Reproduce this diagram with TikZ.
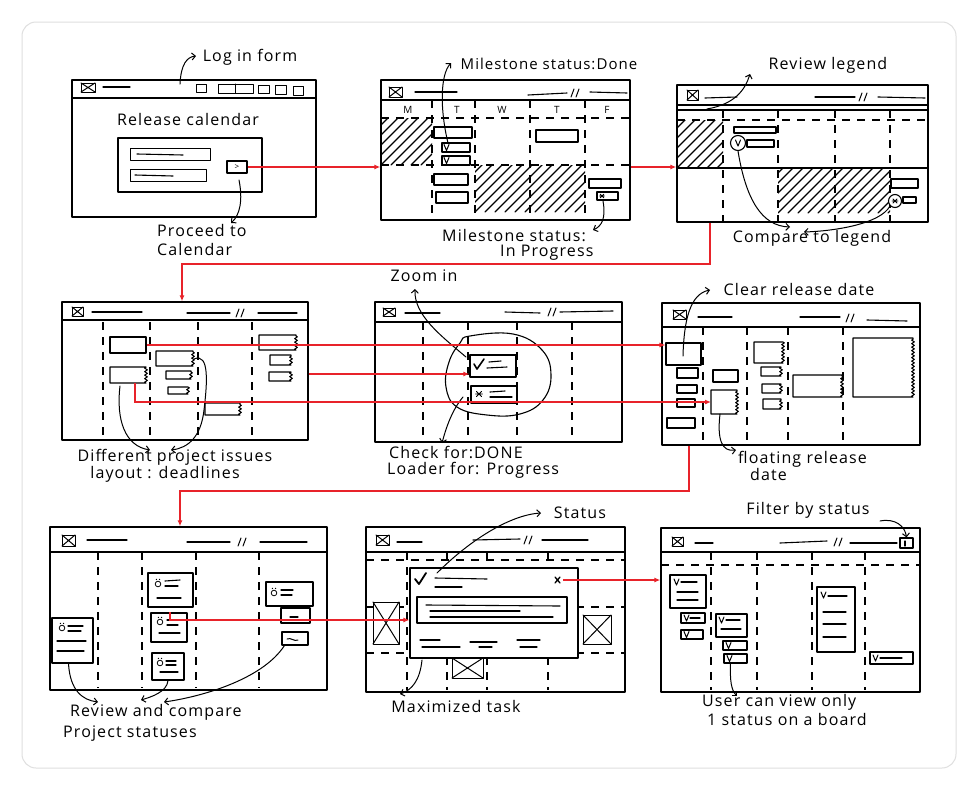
\documentclass[tikz,border=0pt]{standalone}
\usepackage{fontspec}
\setmainfont[LetterSpace=7]{Open Sans}
\usetikzlibrary{arrows.meta,fit,decorations.pathmorphing}
\definecolor{linkred}{HTML}{E8232A}
\tikzset{
  ink/.style={draw=black,line width=1.3pt,line cap=round,line join=round},
  win/.style={ink,inner sep=0pt,fill=white},
  bx/.style={ink,line width=1.1pt,inner sep=0pt},
  dsh/.style={draw=black,line width=1.1pt,dash pattern=on 8pt off 7pt},
  redc/.style={draw=linkred,line width=1.2pt,-{Latex[length=6pt,width=5pt]}},
  note/.style={draw=black,line width=1pt,line cap=round,-{Straight Barb[length=3.5pt,width=7pt]}},
  lbl/.style={font=\fontsize{16}{19}\selectfont,inner sep=0pt},
  day/.style={font=\fontsize{10}{10}\selectfont,inner sep=0pt},
}
\newcommand\skX[4]{\draw[ink,line width=1pt,fill=white] (#1,#2) rectangle (#3,#4); \draw[ink,line width=1pt] (#1,#2) -- (#3,#4) (#1,#4) -- (#3,#2);}
\newcommand\skTorn[4]{\draw[ink,line width=1.1pt,fill=white] (#3,#2) -- (#1,#2) -- (#1,#4) -- (#3,#4) decorate[decoration={zigzag,segment length=3.5pt,amplitude=1.3pt}]{-- (#3,#2)};}
\newcommand\skHatch[4]{\begin{scope}\clip (#1,#2) rectangle (#3,#4); \foreach \i in {0,10,...,200}{\draw[ink,line width=1.1pt] (#1-60+\i,#4) -- ++(60,-60);}\end{scope}}
\newcommand\skV[2]{\draw[ink,line width=1pt] (#1,#2) -- ++(2.5,6) -- ++(2.5,-6);}
\newcommand\skSl[2]{\draw[ink,line width=1pt] (#1-4,#2+4) -- (#1-1,#2-4) (#1+1,#2+4) -- (#1+4,#2-4);}
\newcommand\skLn[4]{\draw[ink,line width=1.1pt] (#1,#2) -- (#3,#4);}
\newcommand\skAst[3]{\draw[ink,line width=0.9pt] (#1-#3,#2) -- (#1+#3,#2) (#1-0.7*#3,#2-0.7*#3) -- (#1+0.7*#3,#2+0.7*#3) (#1-0.7*#3,#2+0.7*#3) -- (#1+0.7*#3,#2-0.7*#3);}
\newcommand\skIc[2]{\draw[ink,line width=0.8pt] (#1,#2) circle (2.8); \fill (#1-1.6,#2-4.6) circle (0.7) (#1+1.6,#2-4.6) circle (0.7);}
\begin{document}
\begin{tikzpicture}[x=1pt,y=-1pt]
\useasboundingbox (0,0) rectangle (978,790);
\fill[white] (0,0) rectangle (978,790);
\draw[gray!25,line width=1pt,rounded corners=14pt] (22,22) rectangle (956,768);

% ---------------- Panel 1
\node[win,fit={(72,80)(316,217)}] (p1) {};
\skLn{72}{98}{316}{98}
\skX{81}{83}{95}{92}
\skLn{103}{87}{130}{87}
\draw[ink,line width=1pt] (196,84) rectangle (206,92) (218,84) rectangle (253,93) (235,84) -- (235,93) (258,85) rectangle (269,93) (275,85) rectangle (286,94) (293,86) rectangle (303,95);
\node[lbl] (t1a) at (188,119) {Release calendar};
\node[bx,fit={(118,138)(262,192)}] (p1form) {};
\draw[ink,line width=1pt] (130,148) rectangle (210,160) (130,169) rectangle (206,181);
\skLn{137}{154}{183}{155}
\skLn{135}{175}{173}{176}
\node[bx,fit={(227,161)(247,173)}] (p1btn) {};
\node[font=\fontsize{8}{8}\selectfont,inner sep=0pt] (p1gt) at (237,167) {>};
\node[lbl] (t1b) at (250,57) {Log in form};
\draw[note] (180,84) .. controls (181,64) and (187,57) .. (196,56);
\node[lbl,align=left,anchor=north west,font=\fontsize{16}{19}\selectfont] (t1c) at (157,224) {Proceed to\\Calendar};
\draw[note] (239,180) .. controls (243,200) and (240,215) .. (231,223);

% ---------------- Panel 2
\node[win,fit={(381,80)(630,220)}] (p2) {};
\skLn{381}{100}{630}{100}
\skX{389}{87}{402}{97}
\skLn{415}{92}{457}{92}
\skLn{528}{95}{567}{93}
\skSl{575}{93}
\skLn{590}{92}{627}{93}
\node[day] (dM) at (408,110) {M};
\node[day] (dT1) at (457,110) {T};
\node[day] (dW) at (502,110) {W};
\node[day] (dT2) at (557,110) {T};
\node[day] (dF) at (607,110) {F};
\draw[dsh] (432,100) -- (432,220) (475,100) -- (475,220) (530,100) -- (530,220) (585,100) -- (585,220);
\draw[dsh] (381,118) -- (630,118) (381,165) -- (630,165);
\skHatch{381}{118}{432}{165}
\skHatch{475}{165}{585}{212}
\draw[ink,line width=1.1pt,fill=white] (434,127) rectangle (472,138) (434,174) rectangle (468,185) (436,192) rectangle (468,203) (536,130) rectangle (578,142) (589,179) rectangle (621,188);
\node[bx,fill=white,fit={(442,143)(470,152)}] (p2v1) {};
\node[bx,fill=white,fit={(442,156)(470,165)}] (p2v2) {};
\skV{444}{144.5}
\skV{444}{157.5}
\node[bx,fill=white,fit={(597,192)(618,200)}] (p2prog) {};
\skAst{602}{196}{2.5}
\node[lbl,font=\fontsize{15}{18}\selectfont] (t2a) at (549,64) {Milestone status:Done};
\draw[note] (448,143) .. controls (440,110) and (440,75) .. (451,63);
\node[lbl,anchor=west] (t2b) at (442,236) {Milestone status:};
\node[lbl,anchor=west] (t2c) at (500,253) {In Progress};
\draw[note] (603,201) .. controls (606,218) and (602,226) .. (593,230);

% ---------------- Panel 3
\node[win,fit={(677,85)(928,222)}] (p3) {};
\skLn{677}{105}{928}{105}
\skLn{677}{110}{928}{110}
\skX{687}{90}{698}{100}
\skLn{705}{98}{737}{97}
\skLn{815}{97}{855}{97}
\skSl{863}{97}
\skLn{878}{97}{925}{98}
\draw[dsh] (677,120) -- (928,120);
\skLn{677}{168}{928}{168}
\draw[dsh] (723,110) -- (723,222) (778,110) -- (778,222) (835,110) -- (835,222) (890,110) -- (890,222);
\skHatch{677}{120}{723}{168}
\skHatch{778}{168}{890}{213}
\draw[ink,line width=1.1pt,fill=white] (734,127) rectangle (776,133) (747,140) rectangle (774,147) (891,179) rectangle (918,188) (903,197) rectangle (916,203);
\node[ink,line width=1.1pt,circle,minimum size=15pt,inner sep=0pt,fill=white] (p3v) at (738,143) {};
\skV{735.5}{140}
\node[ink,line width=1.1pt,circle,minimum size=13pt,inner sep=0pt,fill=white] (p3a) at (895,201) {};
\skAst{895}{201}{3}
\node[lbl] (t3a) at (828,65) {Review legend};
\draw[note] (707,109) .. controls (735,104) and (745,90) .. (750,74);
\node[lbl] (t3b) at (812,238) {Compare to legend};
\draw[note] (p3v.south) .. controls (746,200) and (762,226) .. (790,227);
\draw[note] (p3a.south west) .. controls (880,224) and (835,231) .. (804,232);

% ---------------- Panel 4
\node[win,fit={(62,302)(308,440)}] (p4) {};
\skLn{62}{320}{308}{320}
\skX{72}{307}{83}{316}
\skLn{92}{312}{142}{312}
\skLn{187}{313}{230}{313}
\skSl{240}{313}
\skLn{258}{313}{297}{313}
\draw[dsh] (103,322)--(103,438) (150,322)--(150,438) (198,322)--(198,438) (252,322)--(252,438);
\node[bx,fill=white,fit={(110,337)(146,353)}] (p4b1) {};
\skTorn{156}{351}{193}{366}
\skTorn{110}{367}{146}{383}
\coordinate (p4b3) at (135,383);
\skTorn{166}{371}{191}{379}
\skTorn{168}{387}{188}{394}
\skTorn{205}{403}{240}{415}
\skTorn{259}{335}{296}{350}
\skTorn{270}{355}{291}{365}
\skTorn{269}{372}{291}{381}
\node[lbl] (t4a) at (175,457) {Different project issues};
\node[lbl] (t4b) at (165,474) {layout : deadlines};
\draw[note] (120,386) .. controls (116,420) and (125,446) .. (150,450);
\draw[note] (194,359) .. controls (210,352) and (207,385) .. (204,410) .. controls (201,437) and (188,448) .. (171,450);

% ---------------- Panel 5
\node[win,fit={(375,302)(622,442)}] (p5) {};
\skLn{375}{322}{622}{322}
\skX{383}{308}{395}{316}
\skLn{405}{313}{440}{313}
\skLn{505}{312}{540}{313}
\skSl{552}{312}
\skLn{560}{312}{613}{311}
\draw[dsh] (423,322)--(423,440) (468,322)--(468,440) (517,322)--(517,440) (572,322)--(572,440);
\draw[ink,line width=1.1pt] plot[smooth cycle,tension=0.7] coordinates {(470,336) (513,334) (542,350) (551,375) (543,400) (520,414) (487,415) (457,407) (446,387) (449,362) (460,343)};
\node[bx,fill=white,fit={(470,355)(516,377)}] (p5chk) {};
\draw[ink,line width=1.6pt] (474,364) -- (477,369) -- (484,359);
\skLn{489}{362}{501}{361}
\skLn{487}{368}{507}{367}
\node[bx,fill=white,fit={(471,386)(517,403)}] (p5ldr) {};
\skAst{479}{394}{3.5}
\skLn{490}{392}{505}{391}
\skLn{490}{397}{512}{397}
\node[lbl] (t5a) at (424,276) {Zoom in};
\draw[note] (466,357) .. controls (440,335) and (414,315) .. (415,289);
\node[lbl,anchor=west] (t5b) at (389,452) {Check for:DONE};
\node[lbl,anchor=west] (t5c) at (387,470) {Loader for: Progress};
\draw[note] (463,397) .. controls (452,410) and (446,428) .. (442,443);

% ---------------- Panel 6
\node[win,fit={(662,303)(920,445)}] (p6) {};
\skLn{662}{327}{920}{327}
\skX{673}{310}{686}{319}
\skLn{698}{317}{732}{317}
\skLn{800}{317}{840}{317}
\skSl{850}{318}
\skLn{867}{320}{907}{321}
\draw[dsh] (703,327)--(703,440) (747,327)--(747,440) (788,327)--(788,440) (843,327)--(843,440);
\node[bx,fill=white,fit={(666,343)(701,365)}] (p6b1) {};
\draw[ink,line width=1.1pt,fill=white] (677,368) rectangle (698,378) (677,385) rectangle (697,393) (677,399) rectangle (695,407) (667,418) rectangle (695,428) (713,370) rectangle (738,382);
\skTorn{711}{390}{737}{414}
\coordinate (p6fl) at (711,402);
\skTorn{754}{342}{783}{363}
\skTorn{761}{367}{781}{376}
\skTorn{762}{384}{781}{393}
\skTorn{763}{399}{781}{409}
\skTorn{793}{375}{842}{397}
\skTorn{853}{338}{913}{397}
\node[lbl] (t6a) at (799,289) {Clear release date};
\draw[note] (683,356) .. controls (684,320) and (690,294) .. (710,290);
\node[lbl,anchor=west] (t6b) at (738,459) {floating release};
\node[lbl,anchor=west] (t6c) at (750,474) {date};
\draw[note] (720,414) .. controls (717,440) and (722,452) .. (736,450);

% ---------------- Panel 7
\node[win,fit={(50,527)(327,690)}] (p7) {};
\skLn{50}{552}{327}{552}
\skX{62}{535}{75}{546}
\skLn{87}{540}{127}{540}
\skLn{187}{542}{230}{542}
\skSl{242}{542}
\skLn{260}{542}{307}{542}
\draw[dsh] (98,552)--(98,688) (142,552)--(142,688) (196,552)--(196,688) (259,552)--(259,688);
\node[bx,fill=white,fit={(148,573)(193,607)}] (p7cA) {};
\skIc{158}{584}
\skLn{165}{581}{180}{580} \skLn{165}{586}{178}{586} \skLn{157}{598}{181}{598}
\node[bx,fill=white,fit={(151,613)(187,642)}] (p7cB) {};
\skIc{160}{622}
\skLn{167}{620}{180}{620} \skLn{167}{625}{178}{625} \skLn{159}{633}{180}{633}
\node[bx,fill=white,fit={(152,653)(184,680)}] (p7cC) {};
\skIc{160}{663}
\skLn{166}{661}{176}{661} \skLn{166}{665}{176}{665} \skLn{160}{672}{178}{672}
\node[bx,fill=white,fit={(52,618)(93,663)}] (p7cD) {};
\skIc{62}{628}
\skLn{68}{626}{83}{626} \skLn{68}{631}{81}{631} \skLn{57}{641}{86}{641} \skLn{57}{651}{84}{651}
\node[bx,fill=white,fit={(266,582)(313,606)}] (p7cE) {};
\skIc{274}{593}
\skLn{281}{590}{293}{590} \skLn{281}{595}{292}{595}
\node[bx,fill=white,fit={(281,608)(310,623)}] (p7cF) {};
\skLn{290}{617}{298}{617}
\node[bx,fill=white,fit={(282,632)(308,645)}] (p7cG) {};
\draw[ink,line width=1pt] (287,639) .. controls (291,637) and (294,642) .. (298,640);
\node[lbl,anchor=west] (t7a) at (70,712) {Review and compare};
\node[lbl,anchor=west] (t7b) at (63,734) {Project statuses};
\draw[note] (p7cD.south) ++(-4,0) .. controls (70,690) and (82,700) .. (98,702);
\draw[note] (p7cC.south) .. controls (167,692) and (151,697) .. (141,700);
\draw[note] (p7cG.south west) ++(3,0) .. controls (262,680) and (200,697) .. (164,702);

% ---------------- Panel 8
\node[win,fit={(366,527)(625,692)}] (p8) {};
\skLn{366}{552}{625}{552}
\skX{376}{535}{389}{545}
\skLn{397}{542}{422}{542}
\skLn{473}{540}{520}{539}
\skSl{528}{540}
\skLn{542}{540}{588}{540}
\draw[dsh] (366,560)--(625,560) (366,607)--(625,607) (366,653)--(625,653);
\draw[dsh] (407,552)--(407,690) (447,552)--(447,690) (487,552)--(487,690) (548,552)--(548,690);
\skX{373}{602}{399}{644}
\skX{583}{615}{611}{644}
\skX{452}{658}{483}{678}
\node[ink,inner sep=0pt,fill=white,fit={(410,568)(578,658)}] (p8modal) {};
\draw[ink,line width=1.8pt] (415,579) -- (419,584) -- (426,573);
\skLn{435}{578}{487}{579}
\skLn{435}{587}{462}{587}
\draw[ink,line width=1.3pt] (555,577) -- (560,583) (555,583) -- (560,577);
\coordinate (p8x) at (563,580);
\node[bx,fit={(417,597)(567,623)}] (p8inner) {};
\skLn{426}{605}{560}{606}
\skLn{430}{611}{520}{611}
\skLn{430}{617}{553}{617}
\skLn{420}{640}{440}{640} \skLn{422}{647}{460}{647}
\skLn{470}{642}{497}{642} \skLn{479}{647}{492}{647}
\skLn{517}{640}{540}{640} \skLn{520}{647}{537}{647}
\node[lbl] (t8a) at (580,513) {Status};
\draw[note] (437,573) .. controls (470,540) and (510,515) .. (541,513);
\node[lbl] (t8b) at (456,706) {Maximized task};
\draw[note] (422,660) .. controls (420,680) and (412,690) .. (400,694);

% ---------------- Panel 9
\node[win,fit={(661,528)(920,692)}] (p9) {};
\skLn{661}{552}{920}{552}
\skX{672}{537}{683}{546}
\skLn{695}{543}{713}{543}
\skLn{780}{543}{827}{541}
\skSl{838}{542}
\skLn{850}{543}{897}{543}
\node[bx,fit={(900,538)(913,548)}] (p9flt) {};
\skLn{905}{541}{905}{546}
\draw[dsh] (661,565)--(920,565);
\draw[dsh] (711,552)--(711,690) (757,552)--(757,690) (812,552)--(812,690) (865,552)--(865,690);
\node[bx,fill=white,fit={(670,575)(706,608)}] (p9c1) {};
\skV{674}{579} \skLn{681}{582}{697}{582} \skLn{677}{592}{698}{592} \skLn{677}{600}{698}{600}
\node[bx,fill=white,fit={(681,613)(705,623)}] (p9c2) {};
\skV{684}{615} \skLn{690}{618}{700}{618}
\node[bx,fill=white,fit={(681,630)(703,639)}] (p9c3) {};
\skV{684}{631.5}
\node[bx,fill=white,fit={(716,614)(747,637)}] (p9c4) {};
\skV{719}{617} \skLn{726}{620}{740}{620} \skLn{721}{629}{741}{629}
\node[bx,fill=white,fit={(723,641)(747,650)}] (p9c5) {};
\skV{726}{642.5}
\node[bx,fill=white,fit={(724,654)(747,663)}] (p9c6) {};
\skV{727}{655.5}
\node[bx,fill=white,fit={(817,587)(855,652)}] (p9c7) {};
\skV{821}{592} \skLn{828}{596}{847}{596} \skLn{823}{612}{846}{612} \skLn{823}{624}{846}{624} \skLn{823}{637}{846}{637}
\node[bx,fill=white,fit={(870,652)(913,664)}] (p9c8) {};
\skV{873}{655} \skLn{880}{658}{902}{658}
\node[lbl] (t9a) at (808,510) {Filter by status};
\draw[note] (880,521) .. controls (895,518) and (905,526) .. (p9flt.north);
\node[lbl,anchor=west] (t9b) at (702,702) {User can view only};
\node[lbl,anchor=west] (t9c) at (707,719) {1 status on a board};
\draw[note] (p9c6.south west) ++(7,0) .. controls (730,680) and (731,690) .. (737,696);

% ---------------- Red connectors
\draw[redc] (p1btn.east) -- (p1btn.east -| p2.west);
\draw[redc] (p2.east |- 0,167) -- (p3.west |- 0,167);
\coordinate (c3a) at (710,264);
\coordinate (c3b) at (182,264);
\draw[redc] (p3.south -| c3a) -- (c3a) -- (c3b) -- (p4.north -| c3b);
\draw[redc] (p4b1.east) -- (p4b1.east -| p6b1.west);
\draw[redc] (p4.east |- 0,374) -- (p5chk.west |- 0,374);
\coordinate (c6) at (135,402);
\draw[redc] (p4b3) -- (c6) -- (p6fl);
\coordinate (c7a) at (689,491);
\coordinate (c7b) at (180,491);
\draw[redc] (p6.south -| c7a) -- (c7a) -- (c7b) -- (p7.north -| c7b);
\coordinate (c8) at (170,620);
\draw[redc] (p7cB.north -| c8) -- (c8) -- (c8 -| p8modal.west);
\draw[redc] (p8x) -- (p8x -| p9.west);
\end{tikzpicture}
\end{document}
